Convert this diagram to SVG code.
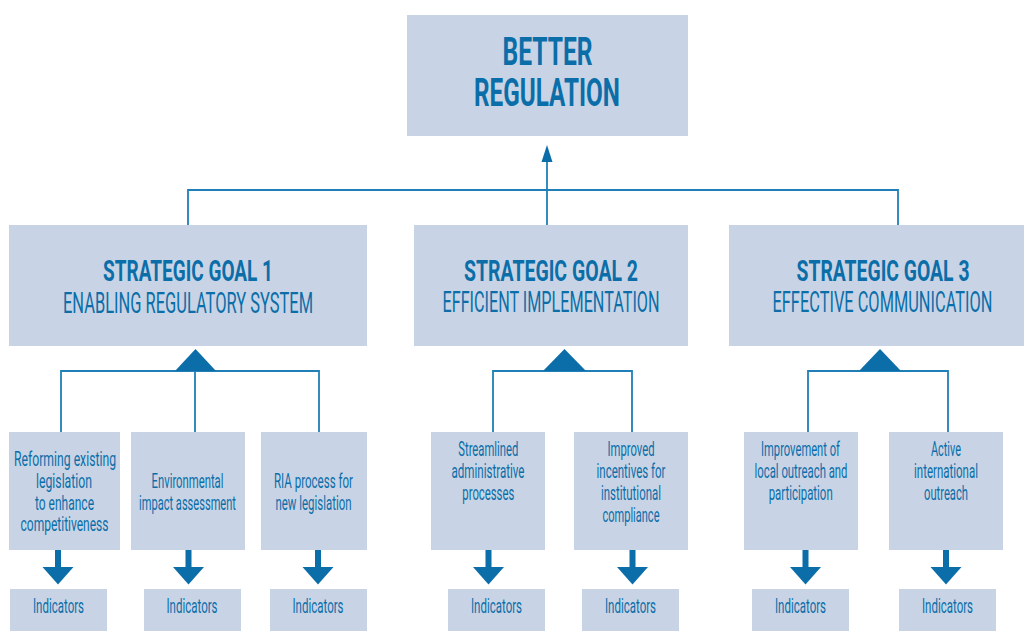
<svg xmlns="http://www.w3.org/2000/svg" width="1024" height="631" viewBox="0 0 1024 631">
<style>
.box{fill:#c8d4e5}
.t{font-family:Roboto,"Liberation Sans",sans-serif;fill:#0b6ea9;text-anchor:middle}
.b{font-weight:bold}
.big{font-size:38px}
.gt{font-size:29px}
.s{font-size:19.5px}
.ln{fill:none;stroke:#1f7fb6;stroke-width:1.8}
.ah{fill:#0b6ea9}
</style>
<rect width="1024" height="631" fill="#ffffff"/>
<g id="connectors">
  <path class="ln" d="M188,225 V190 H898 V225"/>
  <path class="ln" d="M547,225 V160"/>
  <polygon class="ah" points="541.5,162 547,145 552.5,162"/>
  <path class="ln" d="M61,432 V371 H319 V432 M195,371 V432"/>
  <polygon class="ah" points="175,371 195.5,349 216,371"/>
  <path class="ln" d="M493,432 V371 H632 V432"/>
  <polygon class="ah" points="543,371 564.5,349 586,371"/>
  <path class="ln" d="M808,432 V371 H948 V432"/>
  <polygon class="ah" points="859,371 880,349 901,371"/>
  <g class="ah">
    <rect x="55" y="549" width="6" height="19"/><polygon points="42.5,567 73.5,567 58,584.5"/>
    <rect x="185.5" y="549" width="6" height="19"/><polygon points="173,567 204,567 188.5,584.5"/>
    <rect x="315" y="549" width="6" height="19"/><polygon points="302.5,567 333.5,567 318,584.5"/>
    <rect x="485.5" y="549" width="6" height="19"/><polygon points="473,567 504,567 488.5,584.5"/>
    <rect x="629.5" y="549" width="6" height="19"/><polygon points="617,567 648,567 632.5,584.5"/>
    <rect x="802.5" y="549" width="6" height="19"/><polygon points="790,567 821,567 805.5,584.5"/>
    <rect x="943" y="549" width="6" height="19"/><polygon points="930.5,567 961.5,567 946,584.5"/>
  </g>
</g>
<g id="better-regulation">
  <rect class="box" x="407" y="15" width="281" height="121"/>
  <text class="t b big" x="547.5" y="65" textLength="90" lengthAdjust="spacingAndGlyphs">BETTER</text>
  <text class="t b big" x="547" y="106" textLength="146" lengthAdjust="spacingAndGlyphs">REGULATION</text>
</g>
<g id="goal1">
  <rect class="box" x="9" y="225" width="358" height="121"/>
  <text class="t b gt" x="188" y="281" textLength="170" lengthAdjust="spacingAndGlyphs">STRATEGIC GOAL 1</text>
  <text class="t gt" x="188" y="312.5" textLength="250" lengthAdjust="spacingAndGlyphs">ENABLING REGULATORY SYSTEM</text>
</g>
<g id="goal2">
  <rect class="box" x="414" y="225" width="274" height="121"/>
  <text class="t b gt" x="551" y="280.5" textLength="174" lengthAdjust="spacingAndGlyphs">STRATEGIC GOAL 2</text>
  <text class="t gt" x="551" y="312" textLength="217" lengthAdjust="spacingAndGlyphs">EFFICIENT IMPLEMENTATION</text>
</g>
<g id="goal3">
  <rect class="box" x="729" y="225" width="295" height="121"/>
  <text class="t b gt" x="883" y="280.5" textLength="173" lengthAdjust="spacingAndGlyphs">STRATEGIC GOAL 3</text>
  <text class="t gt" x="882.5" y="312" textLength="220" lengthAdjust="spacingAndGlyphs">EFFECTIVE COMMUNICATION</text>
</g>
<g id="sub1a">
  <rect class="box" x="9" y="432" width="111" height="118"/>
  <text class="t s" x="65" y="466" textLength="102" lengthAdjust="spacingAndGlyphs">Reforming existing</text>
  <text class="t s" x="64" y="488" textLength="56" lengthAdjust="spacingAndGlyphs">legislation</text>
  <text class="t s" x="64.5" y="509.5" textLength="59" lengthAdjust="spacingAndGlyphs">to enhance</text>
  <text class="t s" x="64.5" y="531" textLength="88" lengthAdjust="spacingAndGlyphs">competitiveness</text>
</g>
<g id="sub1b">
  <rect class="box" x="131" y="432" width="114" height="118"/>
  <text class="t s" x="187.5" y="488" textLength="72" lengthAdjust="spacingAndGlyphs">Environmental</text>
  <text class="t s" x="187.5" y="509.5" textLength="97" lengthAdjust="spacingAndGlyphs">impact assessment</text>
</g>
<g id="sub1c">
  <rect class="box" x="261" y="432" width="106" height="118"/>
  <text class="t s" x="313.5" y="488" textLength="79" lengthAdjust="spacingAndGlyphs">RIA process for</text>
  <text class="t s" x="313.5" y="509.5" textLength="76" lengthAdjust="spacingAndGlyphs">new legislation</text>
</g>
<g id="sub2a">
  <rect class="box" x="431" y="432" width="114" height="118"/>
  <text class="t s" x="488.3" y="456" textLength="60" lengthAdjust="spacingAndGlyphs">Streamlined</text>
  <text class="t s" x="488" y="478" textLength="73" lengthAdjust="spacingAndGlyphs">administrative</text>
  <text class="t s" x="488.3" y="499.5" textLength="52" lengthAdjust="spacingAndGlyphs">processes</text>
</g>
<g id="sub2b">
  <rect class="box" x="574" y="432" width="114" height="118"/>
  <text class="t s" x="631" y="456" textLength="47" lengthAdjust="spacingAndGlyphs">Improved</text>
  <text class="t s" x="631" y="478" textLength="69" lengthAdjust="spacingAndGlyphs">incentives for</text>
  <text class="t s" x="631" y="499.5" textLength="60" lengthAdjust="spacingAndGlyphs">institutional</text>
  <text class="t s" x="631" y="521.5" textLength="57" lengthAdjust="spacingAndGlyphs">compliance</text>
</g>
<g id="sub3a">
  <rect class="box" x="744" y="432" width="114" height="118"/>
  <text class="t s" x="800.5" y="456" textLength="79" lengthAdjust="spacingAndGlyphs">Improvement of</text>
  <text class="t s" x="801" y="478" textLength="93" lengthAdjust="spacingAndGlyphs">local outreach and</text>
  <text class="t s" x="800.7" y="499.5" textLength="64" lengthAdjust="spacingAndGlyphs">participation</text>
</g>
<g id="sub3b">
  <rect class="box" x="889" y="432" width="114" height="118"/>
  <text class="t s" x="946" y="456" textLength="30" lengthAdjust="spacingAndGlyphs">Active</text>
  <text class="t s" x="946" y="478" textLength="64" lengthAdjust="spacingAndGlyphs">international</text>
  <text class="t s" x="946" y="499.5" textLength="44" lengthAdjust="spacingAndGlyphs">outreach</text>
</g>
<g id="ind1a"><rect class="box" x="10" y="589" width="97" height="42"/><text class="t s" x="58.5" y="612.5" textLength="51" lengthAdjust="spacingAndGlyphs">Indicators</text></g>
<g id="ind1b"><rect class="box" x="144" y="589" width="97" height="42"/><text class="t s" x="192" y="612.5" textLength="51" lengthAdjust="spacingAndGlyphs">Indicators</text></g>
<g id="ind1c"><rect class="box" x="270" y="589" width="97" height="42"/><text class="t s" x="318" y="612.5" textLength="51" lengthAdjust="spacingAndGlyphs">Indicators</text></g>
<g id="ind2a"><rect class="box" x="448" y="589" width="97" height="42"/><text class="t s" x="496.5" y="612.5" textLength="51" lengthAdjust="spacingAndGlyphs">Indicators</text></g>
<g id="ind2b"><rect class="box" x="582" y="589" width="97" height="42"/><text class="t s" x="630.5" y="612.5" textLength="51" lengthAdjust="spacingAndGlyphs">Indicators</text></g>
<g id="ind3a"><rect class="box" x="752" y="589" width="97" height="42"/><text class="t s" x="800.5" y="612.5" textLength="51" lengthAdjust="spacingAndGlyphs">Indicators</text></g>
<g id="ind3b"><rect class="box" x="899" y="589" width="97" height="42"/><text class="t s" x="947.5" y="612.5" textLength="51" lengthAdjust="spacingAndGlyphs">Indicators</text></g>
</svg>
